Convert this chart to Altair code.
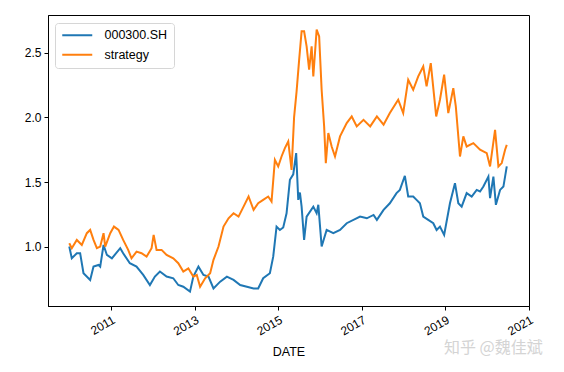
import altair as alt
import pandas as pd

# ---- data (decimal year, value) ----
hs300_t = [2010.00, 2010.06, 2010.18, 2010.26, 2010.34, 2010.50, 2010.58, 2010.70, 2010.74,
           2010.82, 2010.90, 2011.02, 2011.22, 2011.29, 2011.45, 2011.61, 2011.77, 2011.93,
           2012.05, 2012.17, 2012.33, 2012.49, 2012.61, 2012.73, 2012.89, 2012.97, 2013.09,
           2013.21, 2013.33, 2013.45, 2013.61, 2013.77, 2013.93, 2014.09, 2014.25, 2014.41,
           2014.52, 2014.64, 2014.80, 2014.88, 2014.96, 2015.04, 2015.12, 2015.20, 2015.28,
           2015.36, 2015.43, 2015.48, 2015.52, 2015.56, 2015.62, 2015.68, 2015.84, 2015.92,
           2015.96, 2016.04, 2016.16, 2016.32, 2016.48, 2016.64, 2016.96, 2017.12, 2017.28,
           2017.36, 2017.52, 2017.67, 2017.83, 2017.91, 2018.03, 2018.11, 2018.23, 2018.31,
           2018.39, 2018.47, 2018.59, 2018.71, 2018.79, 2018.87, 2018.97, 2019.11, 2019.23,
           2019.31, 2019.39, 2019.51, 2019.63, 2019.75, 2019.83, 2019.91, 2020.03, 2020.07,
           2020.15, 2020.21, 2020.31, 2020.39, 2020.47]
hs300_v = [1.003, 0.912, 0.951, 0.951, 0.797, 0.745, 0.848, 0.861, 0.848,
           1.015, 0.938, 0.912, 0.990, 0.951, 0.874, 0.848, 0.784, 0.706,
           0.771, 0.810, 0.771, 0.758, 0.706, 0.693, 0.655, 0.771, 0.848,
           0.784, 0.771, 0.680, 0.732, 0.771, 0.745, 0.706, 0.693, 0.680,
           0.680, 0.758, 0.797, 0.925, 1.157, 1.131, 1.150, 1.260, 1.518,
           1.560, 1.724, 1.363, 1.420, 1.311, 1.054, 1.234, 1.311, 1.260,
           1.325, 1.003, 1.131, 1.106, 1.131, 1.183, 1.234, 1.221, 1.247,
           1.209, 1.286, 1.337, 1.415, 1.440, 1.549, 1.389, 1.389, 1.363,
           1.337, 1.234, 1.209, 1.183, 1.131, 1.157, 1.093, 1.337, 1.492,
           1.337, 1.311, 1.415, 1.389, 1.440, 1.428, 1.466, 1.543, 1.376,
           1.543, 1.325, 1.440, 1.466, 1.621]

strat_t = [2010.00, 2010.06, 2010.18, 2010.30, 2010.42, 2010.50, 2010.58, 2010.66, 2010.74,
           2010.82, 2010.86, 2010.98, 2011.07, 2011.18, 2011.29, 2011.41, 2011.49, 2011.61,
           2011.73, 2011.85, 2011.97, 2012.02, 2012.09, 2012.21, 2012.33, 2012.49, 2012.61,
           2012.73, 2012.85, 2012.97, 2013.05, 2013.13, 2013.25, 2013.37, 2013.45, 2013.57,
           2013.69, 2013.81, 2013.93, 2014.05, 2014.17, 2014.29, 2014.41, 2014.52, 2014.64,
           2014.76, 2014.84, 2014.92, 2015.00, 2015.08, 2015.16, 2015.24, 2015.32, 2015.38,
           2015.44, 2015.50, 2015.56, 2015.62, 2015.68, 2015.74, 2015.80, 2015.84, 2015.92,
           2015.98, 2016.04, 2016.10, 2016.14, 2016.20, 2016.28, 2016.36, 2016.48, 2016.64,
           2016.76, 2016.88, 2017.04, 2017.20, 2017.36, 2017.52, 2017.67, 2017.87, 2017.99,
           2018.11, 2018.23, 2018.35, 2018.47, 2018.55, 2018.65, 2018.78, 2018.87, 2018.97,
           2019.07, 2019.19, 2019.25, 2019.35, 2019.43, 2019.51, 2019.67, 2019.83, 2019.99,
           2020.07, 2020.19, 2020.27, 2020.35, 2020.43, 2020.47]
strat_v = [1.028, 0.990, 1.054, 1.015, 1.106, 1.131, 1.054, 0.990, 1.003,
           1.106, 1.003, 1.106, 1.157, 1.131, 1.054, 0.977, 0.912, 0.964,
           0.951, 0.925, 0.990, 1.093, 0.977, 0.977, 0.938, 0.912, 0.874,
           0.810, 0.835, 0.771, 0.784, 0.693, 0.758, 0.797, 0.900, 1.003,
           1.157, 1.221, 1.260, 1.234, 1.311, 1.389, 1.286, 1.337, 1.363,
           1.389, 1.350, 1.672, 1.621, 1.698, 1.763, 1.814, 1.595, 2.000,
           2.200, 2.440, 2.664, 2.664, 2.548, 2.368, 2.548, 2.316, 2.677,
           2.625, 2.213, 1.930, 1.647, 1.879, 1.775, 1.698, 1.853, 1.956,
           2.007, 1.930, 1.981, 1.930, 2.007, 1.943, 2.033, 2.136, 2.033,
           2.290, 2.213, 2.316, 2.393, 2.239, 2.419, 2.007, 2.136, 2.329,
           2.033, 2.226, 2.084, 1.698, 1.853, 1.775, 1.801, 1.750, 1.724,
           1.621, 1.904, 1.621, 1.647, 1.750, 1.788]

series_names = ["000300.SH", "strategy"]
series_colors = ["#1f77b4", "#ff7f0e"]
x_ticks = ["2011-01-01", "2013-01-01", "2015-01-01", "2017-01-01", "2019-01-01", "2021-01-01"]
y_ticks = [1.0, 1.5, 2.0, 2.5]
watermark = "知乎 @魏佳斌"


def to_date(d):
    y = int(d)
    return pd.Timestamp(y, 1, 1) + pd.Timedelta(days=(d - y) * 365.25)


rows = []
for t, v in zip(hs300_t, hs300_v):
    rows.append({"DATE": to_date(t), "value": v, "series": series_names[0]})
for t, v in zip(strat_t, strat_v):
    rows.append({"DATE": to_date(t), "value": v, "series": series_names[1]})
df = pd.DataFrame(rows)

FONT = "Liberation Sans"

lines = alt.Chart(df).mark_line(strokeWidth=2).encode(
    x=alt.X("DATE:T",
            scale=alt.Scale(domain=["2009-06-29", "2021-01-01"], nice=False),
            axis=alt.Axis(values=x_ticks, format="%Y", labelAngle=-30,
                          labelAlign="right", labelBaseline="top", labelPadding=4,
                          tickSize=4, title="DATE", titlePadding=9,
                          titleFontWeight="normal")),
    y=alt.Y("value:Q",
            scale=alt.Scale(domain=[0.544, 2.79], nice=False, zero=False),
            axis=alt.Axis(values=y_ticks, format=".1f", tickSize=4, labelPadding=3,
                          title=None)),
    color=alt.Color("series:N",
                    scale=alt.Scale(domain=series_names, range=series_colors),
                    legend=alt.Legend(title=None, orient="none", legendX=7, legendY=8,
                                      symbolType="M-1,0H5", symbolSize=100,
                                      symbolStrokeWidth=2, labelOffset=31,
                                      strokeColor="#d6d6d6", fillColor="white",
                                      padding=6, cornerRadius=3, rowPadding=6.5)),
    order="DATE:T",
)

mark_text = alt.Chart(pd.DataFrame({"t": [watermark]})).mark_text(
    fontSize=16, color="#d4d4d4", align="left", baseline="middle", font="Noto Sans CJK SC"
).encode(x=alt.value(396), y=alt.value(333), text="t:N")

chart = alt.layer(lines, mark_text).properties(
    width=481, height=291,
    padding={"left": 40, "top": 7, "right": 27, "bottom": 58},
    autosize=alt.AutoSizeParams(type="none"),
).configure_view(stroke="black", strokeWidth=1).configure_axis(
    labelFont=FONT, titleFont=FONT, labelFontSize=12, titleFontSize=12.5,
    labelColor="black", titleColor="black", domainColor="black", tickColor="black",
    grid=False, domainWidth=1, tickWidth=1,
).configure_legend(labelFont=FONT, labelFontSize=12.5, labelColor="black")

chart.save("out.html", embed_options={"renderer": "svg", "actions": False})
